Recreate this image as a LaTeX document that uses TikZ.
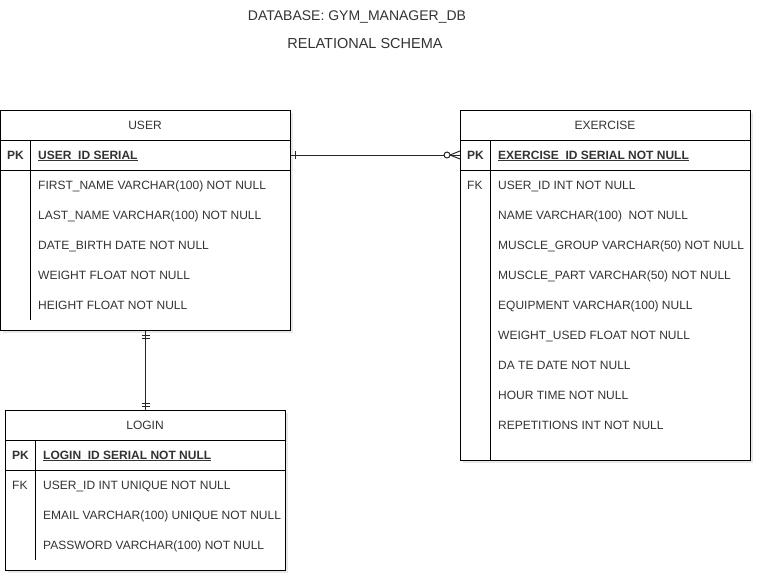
\documentclass[tikz,border=0pt]{standalone}
\usepackage{fontspec}
\setmainfont{Liberation Sans}
\usetikzlibrary{shadows}

\newcommand\erfont{\fontsize{12}{14}\selectfont}
\newcommand\pkul[1]{\underline{\smash{#1}}}

\tikzset{
  tablebox/.style={draw, fill=white, line width=1pt, anchor=north west, inner sep=0pt,
    drop shadow={shadow xshift=2pt, shadow yshift=-2pt, opacity=0.18}},
  tabletitle/.style={inner sep=0pt, font=\erfont, text=black!80,
    text height=11pt, text depth=2.5pt},
  field/.style={anchor=west, inner sep=0pt, font=\erfont, text=black!80,
    text height=11pt, text depth=2.5pt},
  keyfield/.style={field, font=\erfont\bfseries},
  rel/.style={line width=1pt, black!85}
}

\begin{document}
\begin{tikzpicture}[x=1pt, y=-1pt]
  \useasboundingbox (0,0) rectangle (762,582);

  % Title
  \node[tabletitle, font=\fontsize{14}{16}\selectfont] (dbname) at (357,16) {DATABASE: GYM\_MANAGER\_DB};
  \node[tabletitle, font=\fontsize{14.5}{16}\selectfont] (schema) at (365,44) {RELATIONAL SCHEMA};

  % USER
  \node[tablebox, minimum width=290pt, minimum height=220pt] (user) at (0,110) {};
  \begin{scope}[line width=1pt]
    \draw (0,140) -- (290,140);
    \draw (0,170) -- (290,170);
    \draw (30,140) -- (30,320);
  \end{scope}
  \node[tabletitle] (user-head) at (145,125) {USER};
  \node[keyfield] (user-pk) at (7,155) {PK};
  \node[keyfield] (user-id) at (38,155) {\pkul{USER\_ID SERIAL}};
  \foreach \txt [count=\i] in {FIRST\_NAME VARCHAR(100) NOT NULL,
      LAST\_NAME VARCHAR(100) NOT NULL, DATE\_BIRTH DATE NOT NULL,
      WEIGHT FLOAT NOT NULL, HEIGHT FLOAT NOT NULL}
    \node[field] (user-f\i) at (38,155+30*\i) {\txt};

  % EXERCISE
  \node[tablebox, minimum width=290pt, minimum height=350pt] (exercise) at (460,110) {};
  \begin{scope}[line width=1pt]
    \draw (460,140) -- (750,140);
    \draw (460,170) -- (750,170);
    \draw (490,140) -- (490,460);
  \end{scope}
  \node[tabletitle] (exercise-head) at (605,125) {EXERCISE};
  \node[keyfield] (exercise-pk) at (467,155) {PK};
  \node[keyfield] (exercise-id) at (498,155) {\pkul{EXERCISE\_ID SERIAL NOT NULL}};
  \node[field] (exercise-fk) at (467,185) {FK};
  \foreach \txt [count=\i] in {USER\_ID INT NOT NULL, NAME VARCHAR(100)\ \ NOT NULL,
      MUSCLE\_GROUP VARCHAR(50) NOT NULL, MUSCLE\_PART VARCHAR(50) NOT NULL,
      EQUIPMENT VARCHAR(100) NULL, WEIGHT\_USED FLOAT NOT NULL,
      DA TE DATE NOT NULL, HOUR TIME NOT NULL, REPETITIONS INT NOT NULL}
    \node[field] (exercise-f\i) at (498,155+30*\i) {\txt};

  % LOGIN
  \node[tablebox, minimum width=280pt, minimum height=160pt] (login) at (5,410) {};
  \begin{scope}[line width=1pt]
    \draw (5,440) -- (285,440);
    \draw (5,470) -- (285,470);
    \draw (35,440) -- (35,560);
  \end{scope}
  \node[tabletitle] (login-head) at (145,425) {LOGIN};
  \node[keyfield] (login-pk) at (12,455) {PK};
  \node[keyfield] (login-id) at (43,455) {\pkul{LOGIN\_ID SERIAL NOT NULL}};
  \node[field] (login-fk) at (12,485) {FK};
  \foreach \txt [count=\i] in {USER\_ID INT UNIQUE NOT NULL,
      EMAIL VARCHAR(100) UNIQUE NOT NULL, PASSWORD VARCHAR(100) NOT NULL}
    \node[field] (login-f\i) at (43,455+30*\i) {\txt};

  % USER -- EXERCISE (one to zero or many)
  \coordinate (u-end) at (user.east |- user-id);
  \coordinate (e-end) at (exercise.west |- user-id);
  \draw[rel] (u-end) -- (e-end);
  \draw[rel] ([xshift=4pt]u-end) ++(0,-4) -- ++(0,8);
  \draw[rel] ([xshift=-10pt]e-end) -- ([yshift=4pt]e-end);
  \draw[rel] ([xshift=-10pt]e-end) -- ([yshift=-4pt]e-end);
  \draw[rel, fill=white] ([xshift=-13pt]e-end) circle (3pt);

  % USER -- LOGIN (one to one)
  \draw[rel] (user.south) -- (login.north);
  \foreach \d in {4,7} {
    \draw[rel] ([yshift=-\d pt]user.south) ++(-4,0) -- ++(8,0);
    \draw[rel] ([yshift=\d pt]login.north) ++(-4,0) -- ++(8,0);
  }
\end{tikzpicture}
\end{document}
